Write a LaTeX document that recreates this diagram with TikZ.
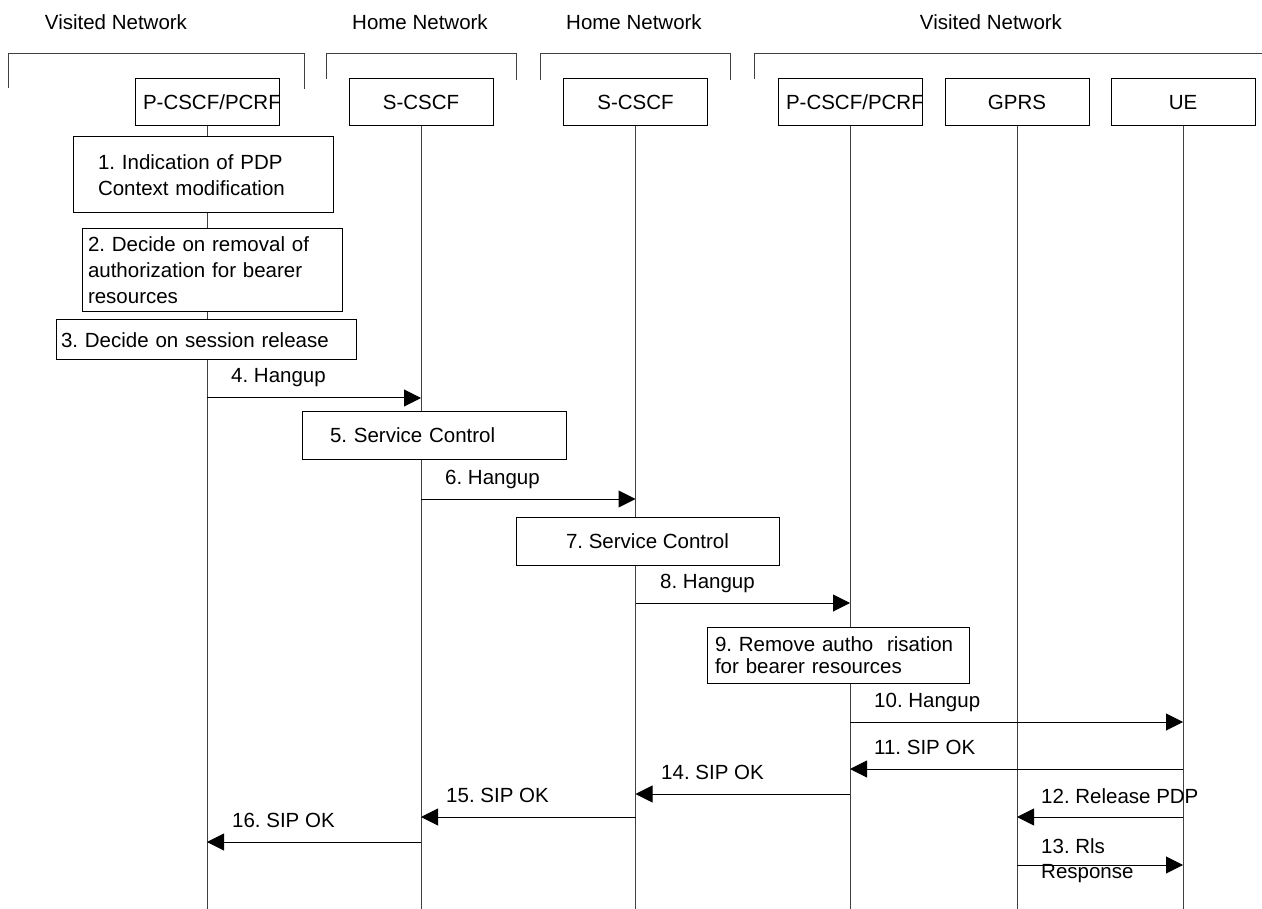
\documentclass[tikz,border=0pt]{standalone}
\usepackage{fontspec}
\setmainfont{Liberation Sans}
\usetikzlibrary{arrows.meta}
\begin{document}
\begin{tikzpicture}[x=1pt,y=-1pt,
  every node/.style={font=\fontsize{20.5}{26}\selectfont\frenchspacing, text=black},
  part/.style={draw, fill=white, line width=1pt, minimum width=144pt, minimum height=47pt, inner sep=0pt},
  stepbox/.style={draw, fill=white, line width=1pt, align=left, inner ysep=0pt},
  life/.style={line width=1pt, black!75},
  bracket/.style={line width=1pt, black!75},
  msg/.style={line width=1pt, -{Triangle[length=17pt,width=17pt]}},
  lbl/.style={anchor=base west, inner sep=0pt},
  hdr/.style={anchor=base, inner sep=0pt}]
\useasboundingbox (0,0) rectangle (1262,909);

% headers
\node[hdr] (h1) at (116,30) {Visited Network};
\node[hdr] (h2) at (420,30) {Home Network};
\node[hdr] (h3) at (634,30) {Home Network};
\node[hdr] (h4) at (991,30) {Visited Network};

% brackets
\draw[bracket] (8,88) -- (8,54) -- (304,54) -- (304,89);
\draw[bracket] (326,79) -- (326,54) -- (516,54) -- (516,80);
\draw[bracket] (540,80) -- (540,54) -- (730,54) -- (730,80);
\draw[bracket] (754,79) -- (754,54) -- (1262,54);

% participants
\node[part, inner xsep=8pt] (pc1) at (207,102.5) {\makebox[128pt][l]{P-CSCF/PCRF}};
\node[part] (sc1) at (421,102.5) {S-CSCF};
\node[part] (sc2) at (635.5,102.5) {S-CSCF};
\node[part, inner xsep=8pt] (pc2) at (850,102.5) {\makebox[128pt][l]{P-CSCF/PCRF}};
\node[part] (gp) at (1017,102.5) {GPRS};
\node[part] (ue) at (1183,102.5) {UE};

% lifelines
\foreach \n in {pc1,sc1,sc2,pc2,gp,ue}
  \draw[life] (\n.south) -- (\n.south |- 0,909);

% step boxes
\node[stepbox, minimum width=260pt, minimum height=76pt, inner xsep=25pt, text width=210pt] (b1) at (203,175)
  {1. Indication of PDP\\Context modification};
\node[stepbox, minimum width=260pt, minimum height=83pt, inner xsep=6pt, text width=248pt] (b2) at (212,270.5)
  {2. Decide on removal of\\authorization for bearer\\resources};
\node[stepbox, minimum width=300pt, minimum height=40pt, inner xsep=5pt, text width=290pt] (b3) at (206,340)
  {3. Decide on session release};
\node[stepbox, minimum width=264pt, minimum height=47pt, inner xsep=28pt, text width=208pt] (b5) at (434,435.5)
  {5. Service Control};
\node[stepbox, align=center, minimum width=263pt, minimum height=48pt, inner xsep=0pt] (b7) at (647.5,541)
  {7. Service Control};
\node[stepbox, minimum width=262pt, minimum height=56pt, inner xsep=8pt, text width=246pt] (b9) at (838,655)
  {9. Remove autho~~risation\\[-4pt]for bearer resources};

% messages
\draw[msg] (pc1 |- 0,398) -- (sc1 |- 0,398);
\draw[msg] (sc1 |- 0,499) -- (sc2 |- 0,499);
\draw[msg] (sc2 |- 0,603) -- (pc2 |- 0,603);
\draw[msg] (pc2 |- 0,722) -- (ue |- 0,722);
\draw[msg] (ue |- 0,769) -- (pc2 |- 0,769);
\draw[msg] (ue |- 0,817) -- (gp |- 0,817);
\draw[msg] (gp |- 0,865) -- (ue |- 0,865);
\draw[msg] (pc2 |- 0,794) -- (sc2 |- 0,794);
\draw[msg] (sc2 |- 0,817) -- (sc1 |- 0,817);
\draw[msg] (sc1 |- 0,842) -- (pc1 |- 0,842);

% labels
\node[lbl] (l4) at (231,383) {4. Hangup};
\node[lbl] (l6) at (445,484) {6. Hangup};
\node[lbl] (l8) at (660,588) {8. Hangup};
\node[lbl] (l10) at (874,707) {10. Hangup};
\node[lbl] (l11) at (874,754) {11. SIP OK};
\node[lbl] (l12) at (1041,803) {12. Release PDP};
\node[anchor=north west, inner sep=0pt, align=left, font=\fontsize{20.5}{25}\selectfont\frenchspacing] (l13) at (1041,838) {13. Rls\\Response};
\node[lbl] (l14) at (661,779) {14. SIP OK};
\node[lbl] (l15) at (446,802) {15. SIP OK};
\node[lbl] (l16) at (232,827) {16. SIP OK};
\end{tikzpicture}
\end{document}
